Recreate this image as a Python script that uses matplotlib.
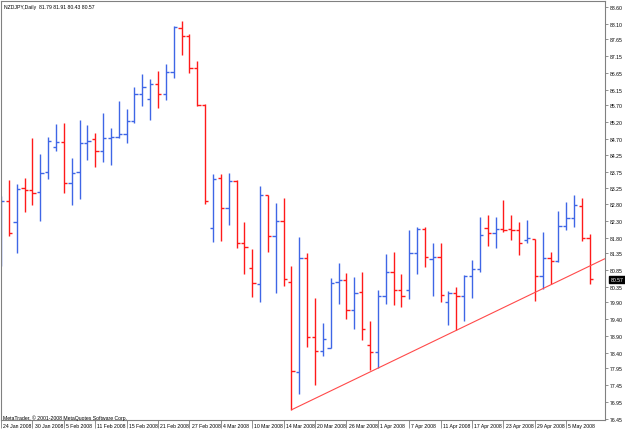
import matplotlib
matplotlib.use("Agg")
import matplotlib.pyplot as plt
import matplotlib.transforms as mtransforms
import numpy as np

# ---------------- data ----------------
symbol = "NZDJPY"
period = "Daily"

opens = [81.76, 82.88, 82.26, 83.27, 83.21, 83.15, 83.74, 84.47, 84.62, 83.41,
         83.74, 84.59, 84.71, 84.36, 84.74, 84.77, 84.86, 85.24, 86.04, 85.89,
         86.33, 86.04, 86.69, 87.98, 87.75, 86.80, 85.71, 82.08, 83.56, 82.68,
         83.47, 81.64, 80.90, 80.43, 83.06, 81.85, 82.29, 80.49, 77.84, 81.20,
         78.87, 78.46, 78.55, 80.49, 80.55, 79.67, 80.20, 78.63, 78.43, 80.08,
         80.79, 80.26, 80.26, 81.35, 82.05, 81.17, 81.23, 79.90, 80.17, 80.08,
         80.67, 80.88, 82.08, 81.94, 82.05, 82.05, 82.03, 81.73, 81.76, 80.67,
         81.20, 81.11, 82.14, 82.38, 82.73, 81.79]
highs = [83.03, 83.50, 83.38, 83.56, 84.74, 84.27, 84.77, 85.15, 85.18, 84.15,
         85.27, 85.12, 84.89, 85.48, 85.03, 85.83, 85.60, 86.24, 86.63, 86.48,
         86.72, 86.92, 88.04, 88.19, 87.81, 87.01, 85.74, 83.68, 83.68, 83.71,
         83.50, 82.26, 81.47, 83.32, 83.06, 82.82, 82.97, 80.96, 81.82, 81.35,
         80.02, 79.28, 80.61, 81.05, 80.76, 80.64, 80.79, 79.34, 80.26, 81.32,
         81.38, 80.73, 82.03, 82.11, 82.11, 81.64, 81.64, 80.23, 80.34, 80.70,
         81.14, 82.41, 82.47, 82.41, 82.91, 82.47, 82.26, 82.32, 81.76, 81.97,
         81.38, 82.59, 82.85, 83.06, 82.97, 81.91]
lows = [80.96, 81.85, 81.35, 82.56, 82.76, 82.29, 83.53, 84.36, 83.12, 82.76,
        82.94, 84.09, 83.88, 84.03, 83.94, 84.74, 84.59, 85.18, 85.68, 85.27,
        85.62, 85.86, 86.51, 87.19, 86.66, 85.68, 82.79, 81.67, 81.70, 82.17,
        81.50, 80.73, 80.05, 79.90, 81.38, 80.17, 80.37, 76.72, 77.19, 78.57,
        77.45, 78.31, 78.55, 79.84, 79.40, 79.11, 78.78, 77.90, 77.96, 79.84,
        79.81, 79.75, 79.99, 80.73, 80.93, 80.08, 79.90, 79.22, 79.08, 79.34,
        80.02, 80.79, 81.55, 81.50, 81.97, 81.73, 81.29, 81.64, 79.93, 80.29,
        80.43, 81.08, 82.03, 82.11, 81.70, 80.43]
closes = [82.88, 81.94, 83.24, 83.21, 83.12, 83.71, 84.65, 84.62, 83.41, 83.71,
          84.59, 84.65, 84.36, 84.74, 84.77, 84.86, 85.24, 86.04, 86.24, 86.33,
          86.04, 86.69, 88.01, 87.75, 86.80, 85.71, 82.88, 83.53, 82.68, 83.47,
          81.64, 81.52, 80.46, 83.06, 81.85, 82.29, 80.58, 77.87, 81.20, 78.87,
          78.46, 78.81, 80.46, 80.55, 79.67, 80.17, 79.11, 78.43, 80.08, 80.79,
          80.26, 80.08, 81.35, 82.05, 81.23, 81.23, 80.11, 80.17, 80.08, 80.67,
          80.88, 81.88, 81.94, 82.05, 82.03, 82.03, 81.64, 81.79, 80.67, 81.20,
          81.11, 82.14, 82.38, 82.76, 81.79, 80.57]

date_labels = ["24 Jan 2008", "30 Jan 2008", "5 Feb 2008", "11 Feb 2008",
               "15 Feb 2008", "21 Feb 2008", "27 Feb 2008", "4 Mar 2008",
               "10 Mar 2008", "14 Mar 2008", "20 Mar 2008", "26 Mar 2008",
               "1 Apr 2008", "7 Apr 2008", "11 Apr 2008", "17 Apr 2008",
               "23 Apr 2008", "29 Apr 2008", "5 May 2008"]
date_label_step = 4

price_labels = ["88.60", "88.10", "87.65", "87.15", "86.65", "86.15", "85.70",
                "85.20", "84.70", "84.25", "83.75", "83.25", "82.80", "82.30",
                "81.80", "81.35", "80.85", "80.35", "79.90", "79.40", "78.90",
                "78.40", "77.95", "77.45", "76.95", "76.45"]

# trend line anchors (bar index, price)
trend_bars = [37, 61]
trend_prices = [76.72, 79.40]

copyright_text = "MetaTrader, \u00a9 2001-2008 MetaQuotes Software Corp."

# ---------------- styling ----------------
BULL = "#3f66e6"
BEAR = "#ff1a1a"
TREND = "#ff4a4a"
FRAME = "#808080"
FS = 3.7
FONT = "Liberation Sans"

W, H = 625, 431
fig = plt.figure(figsize=(W / 100, H / 100), dpi=100)
fig.patch.set_facecolor("white")
left_px, right_px, top_px, bot_px = 1, 605, 2, 421
ax = fig.add_axes([left_px / W, 1 - bot_px / H,
                   (right_px - left_px) / W, (bot_px - top_px) / H])
ax.set_facecolor("white")

o = np.array(opens); h = np.array(highs); l = np.array(lows); c = np.array(closes)
x = np.arange(len(o))
cols = np.where(c >= o, BULL, BEAR)

lw = 1.0
ax.vlines(x, l, h, colors=cols, lw=lw)
ax.hlines(o, x - 0.42, x, colors=cols, lw=lw)
ax.hlines(c, x, x + 0.42, colors=cols, lw=lw)

ax.set_xlim(0, 76.94)
ax.set_ylim(76.42, 88.78)

# trend line extended to the right edge
slope = (trend_prices[1] - trend_prices[0]) / (trend_bars[1] - trend_bars[0])
xe = ax.get_xlim()[1]
ax.plot([trend_bars[0], xe], [trend_prices[0], trend_prices[0] + slope * (xe - trend_bars[0])],
        color=TREND, lw=0.8, solid_capstyle="butt")

# frame
for s in ax.spines.values():
    s.set_color(FRAME)
    s.set_linewidth(0.8)

# y axis on right
ax.yaxis.tick_right()
ax.set_yticks([float(v) for v in price_labels])
ax.set_yticklabels(price_labels, fontsize=FS, fontfamily=FONT)
ax.tick_params(axis="y", direction="out", length=2.2, width=0.6, pad=1.5,
               colors=FRAME, labelcolor="black")

# x axis
xt = np.arange(len(date_labels)) * date_label_step
ax.set_xticks(xt)
ax.set_xticklabels(date_labels, fontsize=FS, fontfamily=FONT, ha="left")
ax.tick_params(axis="x", direction="out", length=5.5, width=0.6, pad=-3.2,
               colors=FRAME, labelcolor="black")
off = mtransforms.ScaledTranslation(2.2 / 100, 0, fig.dpi_scale_trans)
for lab in ax.get_xticklabels():
    lab.set_transform(lab.get_transform() + off)

# last price box
trans = mtransforms.blended_transform_factory(ax.transAxes, ax.transData)
ax.annotate(f"{c[-1]:.2f}", xy=(1.0, c[-1]), xycoords=trans,
            xytext=(4.0, 0), textcoords="offset points",
            fontsize=FS, fontfamily=FONT, color="white", va="center", ha="left",
            bbox=dict(boxstyle="square,pad=0.25", facecolor="black", edgecolor="black"),
            annotation_clip=False)

# title and copyright
ax.text(3 / (right_px - left_px), 1 - 5 / (bot_px - top_px),
        f"{symbol},{period}  {o[-1]:.2f} {h[-1]:.2f} {l[-1]:.2f} {c[-1]:.2f}",
        transform=ax.transAxes, fontsize=FS, fontfamily=FONT, va="center", ha="left")
ax.text(2 / (right_px - left_px), 3 / (bot_px - top_px), copyright_text,
        transform=ax.transAxes, fontsize=FS, fontfamily=FONT, va="center", ha="left")

fig.savefig("out.png", dpi=100, facecolor="white")
